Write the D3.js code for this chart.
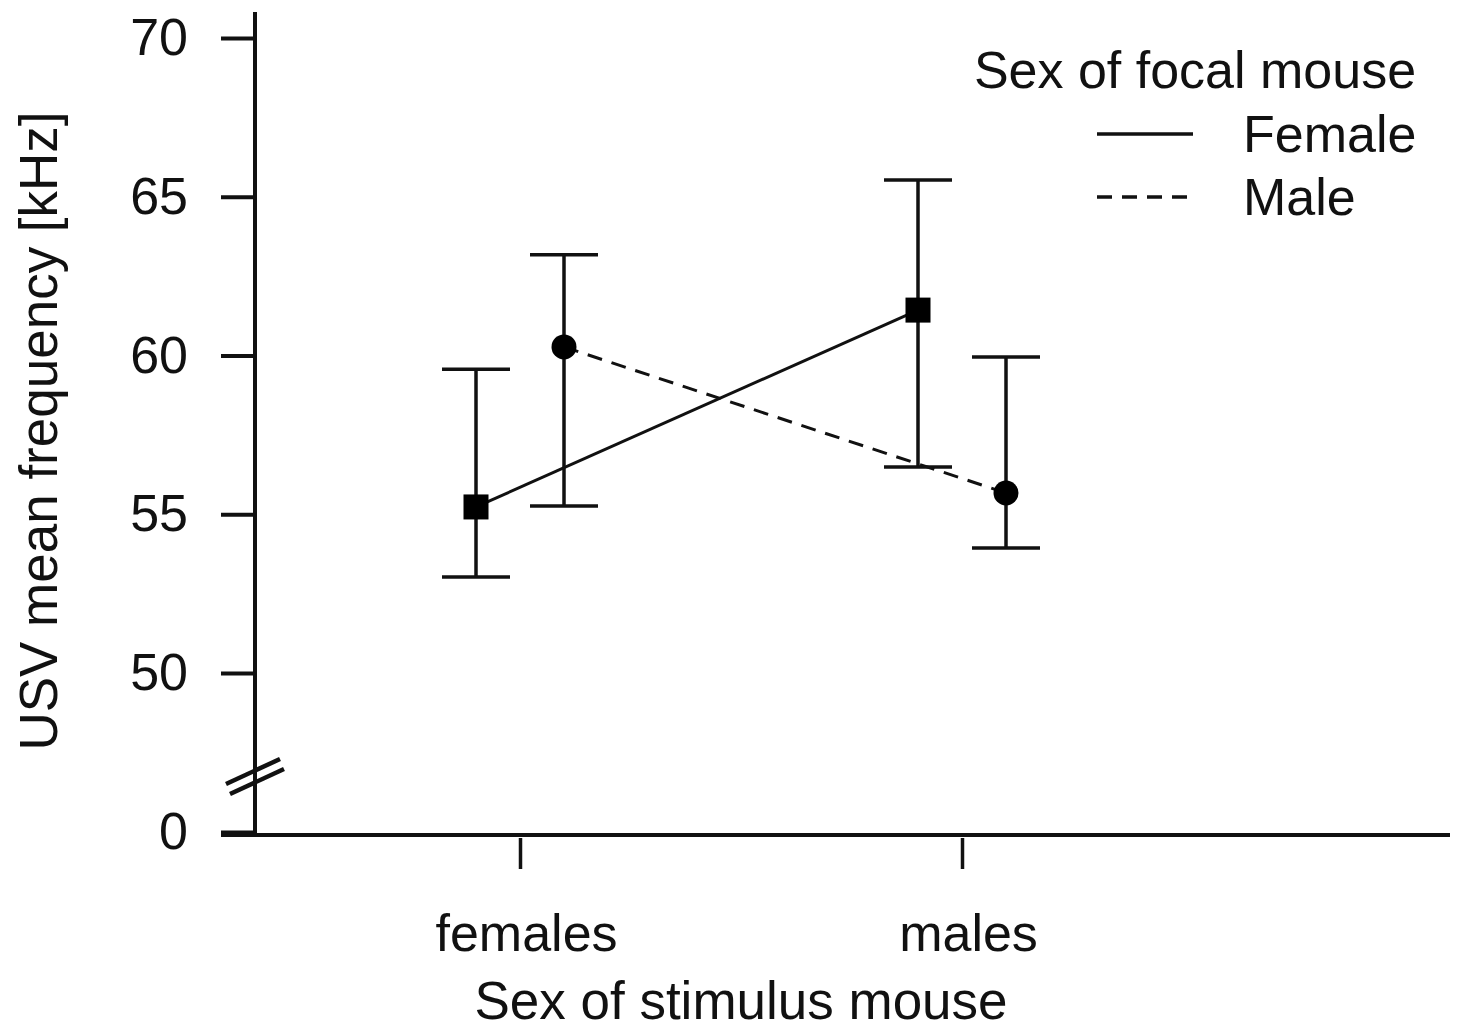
<!DOCTYPE html>
<html>
<head>
<meta charset="utf-8">
<script src="https://cdn.jsdelivr.net/npm/d3@7"></script>
<style>
  body { margin: 0; background: #fff; }
  text { font-family: "Liberation Sans", Arial, sans-serif; fill: #111; }
</style>
</head>
<body>
<svg id="chart" width="1457" height="1031"></svg>
<script>
// Data
const stimulus = ["females", "males"];
const focalSex = ["Female", "Male"];
const femaleMean = [55.23, 61.43];
const femaleLow  = [53.02, 56.49];
const femaleHigh = [59.57, 65.53];
const maleMean = [60.27, 55.67];
const maleLow  = [55.26, 53.94];
const maleHigh = [63.17, 59.95];
const yTicks = [0, 50, 55, 60, 65, 70];

const svg = d3.select("#chart");

// Layout
const axisX = 255, axisY = 835, plotRight = 1450, plotTop = 12;
const ink = "#111";

// Broken y axis: 0 sits just under 50
const y = d3.scaleLinear().domain([0, 50, 70]).range([832, 673, 38]);
const x = d3.scalePoint().domain(stimulus).range([520, 962]);
const offset = { Female: -44, Male: 44 };

const series = [
  { name: "Female", mean: femaleMean, lo: femaleLow, hi: femaleHigh, dash: null, shape: "square" },
  { name: "Male", mean: maleMean, lo: maleLow, hi: maleHigh, dash: "15,10", shape: "circle" }
];

// Y axis
const yAxis = d3.axisLeft(y).tickValues(yTicks).tickSize(34).tickPadding(33);
const gy = svg.append("g").attr("transform", "translate(" + axisX + ",0)").call(yAxis);
gy.select(".domain").remove();
gy.selectAll(".tick line").attr("stroke", ink).attr("stroke-width", 4);
gy.selectAll(".tick text").attr("font-size", 52).style("font-family", "Liberation Sans, Arial, sans-serif").attr("fill", ink);

svg.append("line")
  .attr("x1", axisX).attr("x2", axisX)
  .attr("y1", plotTop).attr("y2", axisY)
  .attr("stroke", ink).attr("stroke-width", 4);

// break marks
[0, 10].forEach(d => {
  svg.append("line")
    .attr("x1", 226 + d * 0.4).attr("y1", 784 + d)
    .attr("x2", 280 + d * 0.4).attr("y2", 759 + d)
    .attr("stroke", ink).attr("stroke-width", 4.5);
});

// X axis
svg.append("line")
  .attr("x1", 221).attr("x2", plotRight)
  .attr("y1", axisY).attr("y2", axisY)
  .attr("stroke", ink).attr("stroke-width", 4);

const xAxis = d3.axisBottom(x).tickSize(31).tickPadding(45);
const gx = svg.append("g").attr("transform", "translate(0," + (axisY + 3) + ")").call(xAxis);
gx.select(".domain").remove();
gx.selectAll(".tick line").attr("stroke", ink).attr("stroke-width", 3.5);
gx.selectAll(".tick text").attr("font-size", 52).attr("dx", 6).style("font-family", "Liberation Sans, Arial, sans-serif").attr("fill", ink);

// Axis titles
svg.append("text")
  .attr("x", 741).attr("y", 1019)
  .attr("text-anchor", "middle").attr("font-size", 53)
  .text("Sex of stimulus mouse");

svg.append("text")
  .attr("transform", "translate(57,431) rotate(-90)")
  .attr("text-anchor", "middle").attr("font-size", 53)
  .text("USV mean frequency [kHz]");

// Series
series.forEach(s => {
  const px = (d, i) => x(stimulus[i]) + offset[s.name];
  const g = svg.append("g");

  // error bars
  stimulus.forEach((c, i) => {
    const cx = px(null, i);
    g.append("line")
      .attr("x1", cx).attr("x2", cx)
      .attr("y1", y(s.lo[i])).attr("y2", y(s.hi[i]))
      .attr("stroke", ink).attr("stroke-width", 3.5);
    [s.lo[i], s.hi[i]].forEach(v => {
      g.append("line")
        .attr("x1", cx - 34).attr("x2", cx + 34)
        .attr("y1", y(v)).attr("y2", y(v))
        .attr("stroke", ink).attr("stroke-width", 3.5);
    });
  });

  // connecting line
  const line = d3.line().x((d, i) => px(d, i)).y(d => y(d));
  g.append("path")
    .datum(s.mean)
    .attr("d", line)
    .attr("fill", "none")
    .attr("stroke", ink)
    .attr("stroke-width", 3)
    .attr("stroke-dasharray", s.dash);

  // markers
  s.mean.forEach((v, i) => {
    if (s.shape === "square") {
      g.append("rect")
        .attr("x", px(v, i) - 12.5).attr("y", y(v) - 12.5)
        .attr("width", 25).attr("height", 25)
        .attr("fill", "#000");
    } else {
      g.append("circle")
        .attr("cx", px(v, i)).attr("cy", y(v))
        .attr("r", 12.5).attr("fill", "#000");
    }
  });
});

// Legend
svg.append("text")
  .attr("x", 1195).attr("y", 88)
  .attr("text-anchor", "middle").attr("font-size", 52)
  .text("Sex of focal mouse");

series.forEach((s, i) => {
  const ly = 134 + i * 63;
  svg.append("line")
    .attr("x1", 1097).attr("x2", 1193)
    .attr("y1", ly).attr("y2", ly)
    .attr("stroke", ink).attr("stroke-width", 3.5)
    .attr("stroke-dasharray", s.dash);
  svg.append("text")
    .attr("x", 1243).attr("y", ly + 18)
    .attr("font-size", 52)
    .text(focalSex[i]);
});
</script>
</body>
</html>
